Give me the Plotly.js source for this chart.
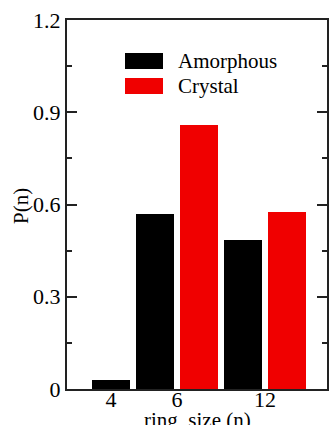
<!DOCTYPE html>
<html>
<head>
<meta charset="utf-8">
<script src="https://cdn.plot.ly/plotly-3.0.1.min.js"></script>
<style>html,body{margin:0;padding:0;background:#fff;}#chart{width:332px;height:425px;}</style>
</head>
<body>
<div id="chart"></div>
<script>
// ---- data ----
const ringSizes = ['4', '6', '12'];
const seriesNames = ['Amorphous', 'Crystal'];
const amorphous = [0.028, 0.568, 0.485];
const crystal = [null, 0.859, 0.575];
const yTicks = [0, 0.3, 0.6, 0.9, 1.2];
const xTitle = 'ring&nbsp; size (n)';
const yTitle = 'P(n)';

// ---- layout helpers (positions, not data) ----
const groupPos = [1, 2.5, 4.5];
const barW = 0.864;
const xA = [], xC = [];
ringSizes.forEach((r, i) => {
  if (crystal[i] == null) { xA.push(groupPos[i]); xC.push(null); }
  else { xA.push(groupPos[i] - 0.5); xC.push(groupPos[i] + 0.5); }
});

const font = '"Liberation Serif"';
const colors = ['#000000', '#f00000'];

const traces = [
  {type: 'bar', x: xA, y: amorphous, name: seriesNames[0], width: barW,
   marker: {color: colors[0]}, showlegend: false, hoverinfo: 'none'},
  {type: 'bar', x: xC, y: crystal, name: seriesNames[1], width: barW,
   marker: {color: colors[1]}, showlegend: false, hoverinfo: 'none'}
];

// legend drawn with paper-coordinate swatches
const L = 67, R = 327, T = 20, B = 389;
const px = v => (v - L) / (R - L);
const py = v => (B - v) / (B - T);
const legRows = [61, 86];
const shapes = [], annotations = [];
seriesNames.forEach((n, i) => {
  shapes.push({type: 'rect', xref: 'paper', yref: 'paper',
    x0: px(125), x1: px(163), y0: py(legRows[i] + 8), y1: py(legRows[i] - 8),
    fillcolor: colors[i], line: {width: 0}});
  annotations.push({xref: 'paper', yref: 'paper', x: px(176), y: py(legRows[i]),
    xanchor: 'left', yanchor: 'middle', text: n, showarrow: false,
    font: {family: font, size: 21, color: '#000'}});
});
// axis titles (placed as annotations to match the reference positions)
annotations.push({xref: 'paper', yref: 'paper', x: 0.5, y: py(420),
  xanchor: 'center', yanchor: 'middle', text: xTitle, showarrow: false,
  font: {family: font, size: 21, color: '#000'}});
annotations.push({xref: 'paper', yref: 'paper', x: px(21), y: py(206),
  xanchor: 'center', yanchor: 'middle', textangle: -90, text: yTitle, showarrow: false,
  font: {family: font, size: 21, color: '#000'}});

const layout = {
  width: 332, height: 425,
  margin: {l: 67, r: 5, t: 20, b: 36},
  paper_bgcolor: '#fff', plot_bgcolor: '#fff',
  font: {family: font, size: 21, color: '#000'},
  bargap: 0,
  xaxis: {
    range: [0, 5.91], tickmode: 'array', tickvals: groupPos, ticktext: ringSizes,
    ticks: '', ticklen: 0, showgrid: false, zeroline: false,
    showline: true, mirror: true, linecolor: '#222', linewidth: 2,
    tickfont: {family: font, size: 22}, ticklabelstandoff: -10
  },
  yaxis: {
    range: [0, 1.2], tickmode: 'array', tickvals: yTicks,
    ticktext: yTicks.map(v => String(v)),
    ticks: 'inside', ticklen: 10, tickwidth: 2, tickcolor: '#222',
    minor: {dtick: 0.15, ticks: 'inside', ticklen: 5, tickwidth: 2, tickcolor: '#222'},
    showgrid: false, zeroline: false,
    showline: true, mirror: 'ticks', linecolor: '#222', linewidth: 2,
    tickfont: {family: font, size: 22}
  },
  shapes: shapes,
  annotations: annotations,
  showlegend: false
};

Plotly.newPlot('chart', traces, layout, {staticPlot: true, displayModeBar: false});
</script>
</body>
</html>
